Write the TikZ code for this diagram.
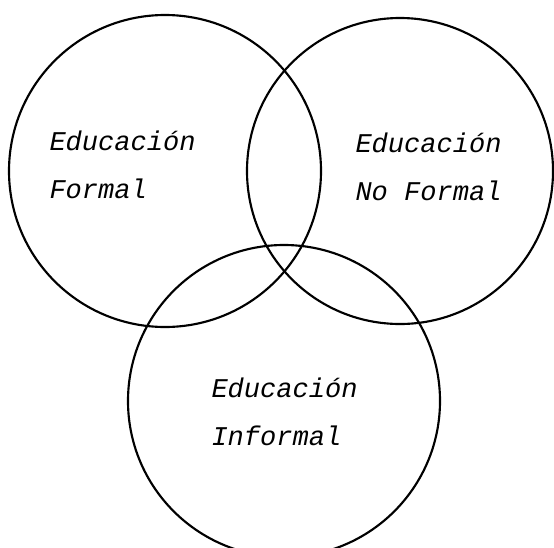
\documentclass[tikz,border=0pt]{standalone}
\usepackage{fontspec}
\setmonofont{Liberation Mono}

\tikzset{every picture/.style={line width=0.75pt}}
\tikzset{
	ring/.style={circle, draw, line width=1.6pt, inner sep=0pt, outer sep=0pt},
	label/.style={anchor=base west, align=left, inner sep=0pt,
		font=\fontsize{20.3}{36}\selectfont\ttfamily\itshape}
}

\begin{document}
\begin{tikzpicture}[x=0.75pt,y=0.75pt,yscale=-1,xscale=1]
	\useasboundingbox (0,0) rectangle (554,547);
	
	%Shape: Circle [formal]
	\node[ring, minimum size=234pt] (formal) at (165,171) {};
	%Shape: Circle [noformal]
	\node[ring, minimum size=229.5pt] (noformal) at (400,171) {};
	%Shape: Circle [informal]
	\node[ring, minimum size=234pt] (informal) at (284,401) {};
	
	% Text Node
	\node[label] (tformal) at (49,198) {Educación\\Formal};
	% Text Node
	\node[label] (tnoformal) at (355,200) {Educación\\No Formal};
	% Text Node
	\node[label] (tinformal) at (211,445) {Educación\\Informal};
\end{tikzpicture}
\end{document}
